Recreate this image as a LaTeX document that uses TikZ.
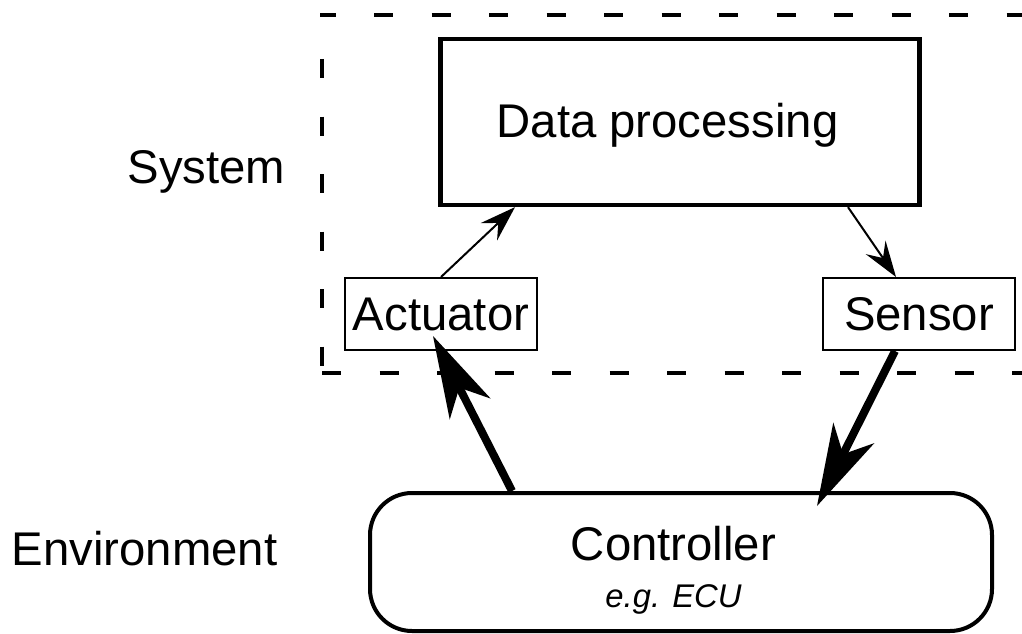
\documentclass[tikz,border=0pt]{standalone}
\usepackage{fontspec}
\setmainfont{Liberation Sans}
\usetikzlibrary{arrows.meta,calc}
\begin{document}
\begin{tikzpicture}[x=1pt,y=-1pt,
  big/.style={font=\fontsize{47.3}{56}\selectfont},
  small/.style={font=\fontsize{32.8}{40}\selectfont\itshape},
  dpbox/.style={draw, line width=4.3pt, minimum width=479pt, minimum height=166pt, inner sep=0pt},
  smallbox/.style={draw, line width=2pt, minimum width=192pt, minimum height=72pt, inner sep=0pt, big},
  ctrlbox/.style={draw, line width=4pt, rounded corners=42pt, minimum width=622pt, minimum height=138pt, inner sep=0pt},
  thinarrow/.style={line width=2pt, -{Stealth[length=36pt, width=24pt, inset=13pt, line width=0pt]}},
  thickarrow/.style={line width=8pt, -{Stealth[length=82pt, width=46pt, inset=24pt, line width=0pt]}},
  boundary/.style={line width=4pt, dash pattern=on 19pt off 38.5pt},
  lbl/.style={big, inner sep=0pt, anchor=base}
]
\useasboundingbox (0,0) rectangle (1022,634);

% system boundary (dashed)
\draw[boundary, dash phase=3.5pt] (320,15) -- (1030,15);
\draw[boundary] (322,59) -- (322,373);
\draw[boundary] (322,373) -- (1030,373);

% boxes
\node[dpbox] (dp) at (680,122) {};
\node[lbl] (dptext) at (667.5,137) {Data processing};
\node[smallbox] (act) at (441,314) {Actuator};
\node[smallbox] (sen) at (919,314) {Sensor};
\node[ctrlbox] (ctrl) at (681,562) {};
\node[lbl] (ctrltext) at (673.5,560) {Controller};
\node[small, inner sep=0pt, anchor=base] (ecu) at (673.5,607) {e.g. ECU};

% side labels
\node[lbl] (system) at (206.5,183) {System};
\node[lbl] (env) at (144.5,565) {Environment};

% connectors
\draw[thinarrow] (act.north) -- ([xshift=-165pt]dp.south);
\draw[thinarrow] ([xshift=168pt]dp.south) -- ([xshift=-23pt]sen.north);
\draw[thickarrow] ([xshift=-169pt]ctrl.north) -- ([xshift=-8pt,yshift=15pt]act.south);
\draw[thickarrow] ([xshift=-24pt]sen.south) -- ([xshift=136pt,yshift=-15pt]ctrl.north);
\end{tikzpicture}
\end{document}
